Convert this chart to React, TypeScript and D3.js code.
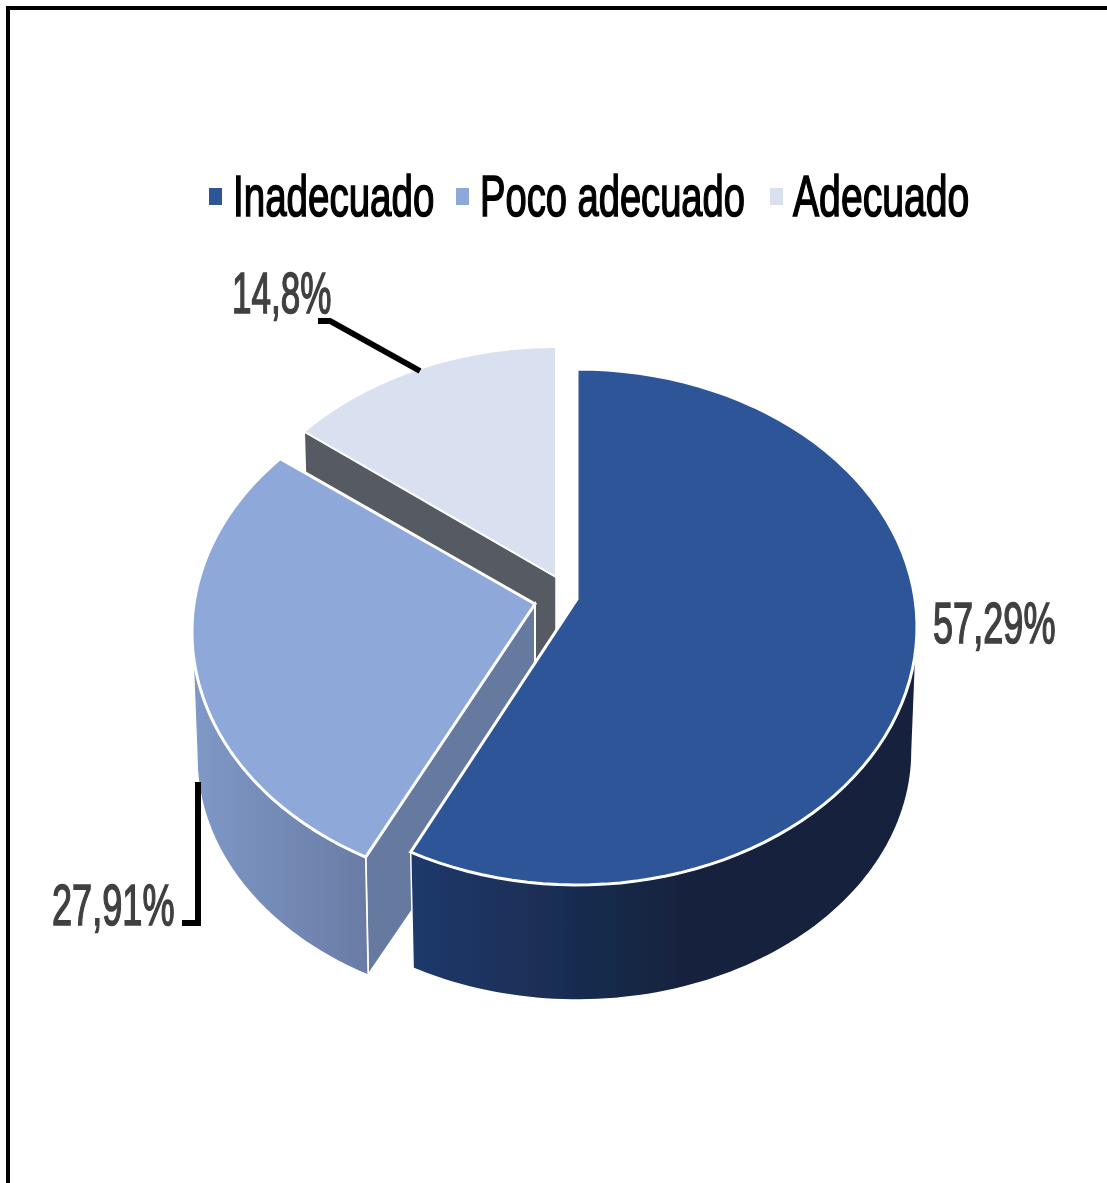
import React from "react";
import * as d3 from "d3";

const categories = ["Inadecuado", "Poco adecuado", "Adecuado"];
const values = [57.29, 27.91, 14.8];
const valueLabels = ["57,29%", "27,91%", "14,8%"];
const colors = ["#2e5597", "#8ea8d9", "#d9e0f0"];

const W = 1107, H = 1183;
const RX = 340, RY = 258;        // top ellipse radii
const BRX = 335, BRY = 249;      // bottom ellipse radii (perspective)
const APEX_LIFT = 28;            // apex sits above the ellipse centre in perspective
const WARP = 0.12;               // perspective warp of angles
// slice centres after explosion
const centres = [
  { x: 577, y: 627, by: 751, ax: 0 },
  { x: 532, y: 632, by: 758, ax: 3 },
  { x: 556, y: 605, by: 729, ax: 0 },
];

const pie = d3.pie<number>().sort(null).startAngle(0).endAngle(2 * Math.PI);
const arcs = pie(values);
const warp = (t: number) => t - WARP * Math.sin(t);

type P = [number, number];
const topPt = (i: number, t: number): P => [centres[i].x + RX * Math.sin(t), centres[i].y - RY * Math.cos(t)];
const botPt = (i: number, t: number): P => [centres[i].x + BRX * Math.sin(t), centres[i].by - BRY * Math.cos(t)];
const line = d3.line<P>();
const sweep = (a: number, b: number) => d3.range(0, 81).map((k) => a + ((b - a) * k) / 80);

function geometry(i: number) {
  const a0 = warp(arcs[i].startAngle);
  const a1 = warp(arcs[i].endAngle);
  const c = centres[i];
  const apex: P = [c.x + c.ax, c.y - APEX_LIFT];
  const apexB: P = [c.x + c.ax, c.by - APEX_LIFT];
  const topArc = sweep(a0, a1).map((t) => topPt(i, t));
  return { a0, a1, apex, apexB, topPath: line([apex, ...topArc])! + "Z" };
}
const outerWall = (i: number, from: number, to: number) => {
  const ts = sweep(from, to);
  return line([...ts.map((t) => topPt(i, t)), ...ts.slice().reverse().map((t) => botPt(i, t))])! + "Z";
};

const g0 = geometry(0), g1 = geometry(1), g2 = geometry(2);

// inner walls along each slice's start edge
const wall3 = line([g2.apex, topPt(2, g2.a0), botPt(2, g2.a0), g2.apexB])! + "Z";
const wall2 = line([g1.apex, topPt(1, g1.a0), botPt(1, g1.a0), g1.apexB])! + "Z";
const side1 = outerWall(1, g1.a0, (3 * Math.PI) / 2);
const side0 = outerWall(0, Math.PI / 2, g0.a1);

const FONT = "'Liberation Sans', Arial, sans-serif";
const FS = 57;

function Txt({ x, y, sx, fill, children }: any) {
  return (
    <text transform={`translate(${x},${y}) scale(${sx},1)`} fontFamily={FONT} fontSize={FS}
      fill={fill} stroke={fill} strokeWidth={1.6}>
      {children}
    </text>
  );
}

export default function App() {
  const legend = [
    { sx: 209, tx: 233, k: 0.676 },
    { sx: 456, tx: 480, k: 0.669 },
    { sx: 770, tx: 793, k: 0.687 },
  ];
  const labels = [
    { x: 933, y: 643, k: 0.634 },
    { x: 52, y: 925, k: 0.634 },
    { x: 232, y: 313, k: 0.615 },
  ];
  return (
    <svg width={W} height={H} viewBox={`0 0 ${W} ${H}`} style={{ position: "absolute", left: 0, top: 0, background: "#fff" }}>
      <defs>
        <linearGradient id="g0" gradientUnits="userSpaceOnUse" x1={410} x2={690} y1={0} y2={0}>
          <stop offset="0" stopColor="#20396c" />
          <stop offset="1" stopColor="#14233c" />
        </linearGradient>
        <linearGradient id="g1" gradientUnits="userSpaceOnUse" x1={195} x2={366} y1={0} y2={0}>
          <stop offset="0" stopColor="#7f98c6" />
          <stop offset="1" stopColor="#697ca5" />
        </linearGradient>
        <filter id="soft" x="-2%" y="-2%" width="104%" height="104%">
          <feGaussianBlur stdDeviation="0.6" />
        </filter>
      </defs>
      <path d={`M8 ${H}V8H${W}`} fill="none" stroke="#000" strokeWidth={4} />
      <g filter="url(#soft)">
        <path d={wall3} fill="#575a63" stroke="#fff" strokeWidth={1.5} />
        <path d={g2.topPath} fill={colors[2]} stroke="#fff" strokeWidth={2} />
        <path d={wall2} fill="#66799e" stroke="#fff" strokeWidth={2} />
        <path d={side1} fill="url(#g1)" stroke="#fff" strokeWidth={1.5} />
        <path d={g1.topPath} fill={colors[1]} stroke="#fff" strokeWidth={3} />
        <path d={side0} fill="url(#g0)" stroke="#fff" strokeWidth={1.5} />
        <path d={g0.topPath} fill={colors[0]} stroke="#fff" strokeWidth={3} />
        <path d="M318 321H330L420 371" fill="none" stroke="#000" strokeWidth={6} />
        <path d="M198 782V923H182" fill="none" stroke="#000" strokeWidth={6} />
        {categories.map((c, i) => (
          <g key={c}>
            <rect x={legend[i].sx} y={188} width={13} height={17} fill={colors[i]} />
            <Txt x={legend[i].tx} y={216} sx={legend[i].k} fill="#000">{c}</Txt>
          </g>
        ))}
        {valueLabels.map((t, i) => (
          <Txt key={t} x={labels[i].x} y={labels[i].y} sx={labels[i].k} fill="#404040">{t}</Txt>
        ))}
      </g>
    </svg>
  );
}
